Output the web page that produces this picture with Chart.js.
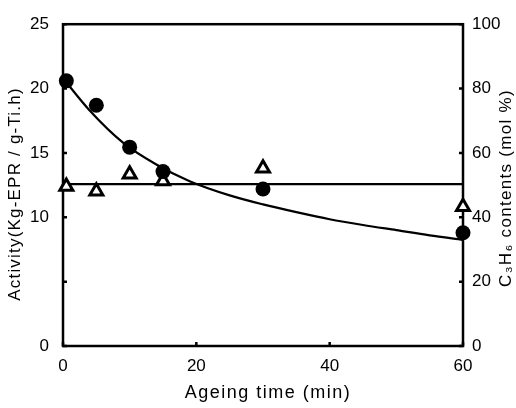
<!DOCTYPE html>
<html>
<head>
<meta charset="utf-8">
<script src="https://cdn.jsdelivr.net/npm/chart.js@4"></script>
<style>
  html, body { margin: 0; padding: 0; background: #fff; }
  #wrap { width: 516px; height: 408px; }
</style>
</head>
<body>
<div id="wrap"><canvas id="myChart"></canvas></div>
<script>
// ageing time (min)
const ageTimes = [0.5, 5, 10, 15, 30, 60];
// activity, Kg-EPR / g-Ti.h (filled circles, left axis)
const activity = [20.6, 18.7, 15.45, 13.55, 12.2, 8.8];
// C3H6 content, mol % (open triangles, right axis)
const c3h6 = [49.6, 48.1, 53.4, 51.3, 55.2, 43.3];
// smooth decay curve drawn through the activity points
const fitTimes = [0, 4, 9, 14, 19, 25, 30, 35, 40, 45, 50, 55, 60];
const fitActivity = [20.8, 18.3, 15.8, 14.1, 12.8, 11.7, 11.0, 10.4, 9.85, 9.4, 9.0, 8.6, 8.25];
// flat C3H6 level line
const levelTimes = [0, 60];
const levelC3h6 = [50.3, 50.3];

const xTicks = [0, 20, 40, 60];
const yTicks = [0, 5, 10, 15, 20, 25];
const y2Ticks = [0, 20, 40, 60, 80, 100];

const xTitle = "Ageing time (min)";
const yTitle = "Activity(Kg-EPR / g-Ti.h)";
const y2Title = "C\u2083H\u2086 contents (mol %)";

const fontFam = "'Liberation Sans', Arial, sans-serif";

// frame, inward tick marks and axis titles
const framePlugin = {
  id: "frame",
  beforeDatasetsDraw(chart) {
    const ctx = chart.ctx;
    const a = chart.chartArea;
    ctx.save();
    ctx.strokeStyle = "#000";
    ctx.lineWidth = 2.5;
    ctx.strokeRect(a.left, a.top, a.right - a.left, a.bottom - a.top);
    const x = chart.scales.x, y = chart.scales.y, y2 = chart.scales.y2;
    ctx.beginPath();
    xTicks.forEach(function (v) {
      const px = x.getPixelForValue(v);
      ctx.moveTo(px, a.bottom); ctx.lineTo(px, a.bottom - 4);
    });
    yTicks.forEach(function (v) {
      const py = y.getPixelForValue(v);
      ctx.moveTo(a.left, py); ctx.lineTo(a.left + 4, py);
    });
    y2Ticks.forEach(function (v) {
      const py = y2.getPixelForValue(v);
      ctx.moveTo(a.right, py); ctx.lineTo(a.right - 4, py);
    });
    ctx.stroke();
    ctx.restore();
  },
  afterDraw(chart) {
    const ctx = chart.ctx;
    ctx.save();
    ctx.fillStyle = "#000";
    ctx.textAlign = "center";
    ctx.textBaseline = "middle";
    ctx.font = "18px " + fontFam;
    ctx.letterSpacing = "1.5px";
    ctx.fillText(xTitle, 268, 393);
    ctx.font = "17px " + fontFam;
    ctx.letterSpacing = "1.2px";
    ctx.save();
    ctx.translate(15, 194);
    ctx.rotate(-Math.PI / 2);
    ctx.fillText(yTitle, 0, 0);
    ctx.restore();
    ctx.letterSpacing = "1.3px";
    ctx.translate(506, 188);
    ctx.rotate(-Math.PI / 2);
    ctx.fillText(y2Title, 0, 0);
    ctx.restore();
  }
};

const ctx = document.getElementById("myChart").getContext("2d");
const chart = new Chart(ctx, {
  type: "scatter",
  data: {
    datasets: [
      {
        label: "Activity",
        data: ageTimes.map(function (t, i) { return { x: t, y: activity[i] }; }),
        yAxisID: "y",
        pointStyle: "circle",
        pointRadius: 7.5,
        backgroundColor: "#000",
        borderColor: "#000",
        borderWidth: 0,
        order: 0,
        clip: false
      },
      {
        label: "C3H6",
        data: ageTimes.map(function (t, i) { return { x: t, y: c3h6[i] }; }),
        yAxisID: "y2",
        pointStyle: "triangle",
        pointRadius: 7.5,
        backgroundColor: "#fff",
        borderColor: "#000",
        borderWidth: 3,
        order: 1,
        clip: false
      },
      {
        label: "fit",
        type: "line",
        data: fitTimes.map(function (t, i) { return { x: t, y: fitActivity[i] }; }),
        yAxisID: "y",
        borderColor: "#000",
        borderWidth: 2.2,
        pointRadius: 0,
        tension: 0.4,
        cubicInterpolationMode: "monotone",
        fill: false,
        order: 2
      },
      {
        label: "level",
        type: "line",
        data: levelTimes.map(function (t, i) { return { x: t, y: levelC3h6[i] }; }),
        yAxisID: "y2",
        borderColor: "#000",
        borderWidth: 2.2,
        pointRadius: 0,
        fill: false,
        order: 2
      }
    ]
  },
  options: {
    responsive: true,
    maintainAspectRatio: false,
    animation: false,
    layout: { padding: { top: 18, left: 0, right: 0, bottom: 0 } },
    plugins: { legend: { display: false }, tooltip: { enabled: false } },
    scales: {
      x: {
        type: "linear",
        min: 0, max: 60,
        afterFit: function (s) { s.height = 62; },
        afterBuildTicks: function (s) { s.ticks = xTicks.map(function (v) { return { value: v }; }); },
        grid: { display: false, drawTicks: false },
        border: { display: false },
        ticks: { color: "#000", padding: 10, font: { family: fontFam, size: 17 } },
        title: { display: false }
      },
      y: {
        type: "linear",
        position: "left",
        min: 0, max: 25,
        afterFit: function (s) { s.width = 63; },
        afterBuildTicks: function (s) { s.ticks = yTicks.map(function (v) { return { value: v }; }); },
        grid: { display: false, drawTicks: false },
        border: { display: false },
        ticks: {
          color: "#000", padding: 14, font: { family: fontFam, size: 17 },
          callback: function (v) { return v === 5 ? "" : v; }
        },
        title: { display: false }
      },
      y2: {
        type: "linear",
        position: "right",
        min: 0, max: 100,
        afterFit: function (s) { s.width = 53; },
        afterBuildTicks: function (s) { s.ticks = y2Ticks.map(function (v) { return { value: v }; }); },
        grid: { display: false, drawTicks: false },
        border: { display: false },
        ticks: { color: "#000", padding: 9, font: { family: fontFam, size: 17 } },
        title: { display: false }
      }
    }
  },
  plugins: [framePlugin]
});
</script>
</body>
</html>
